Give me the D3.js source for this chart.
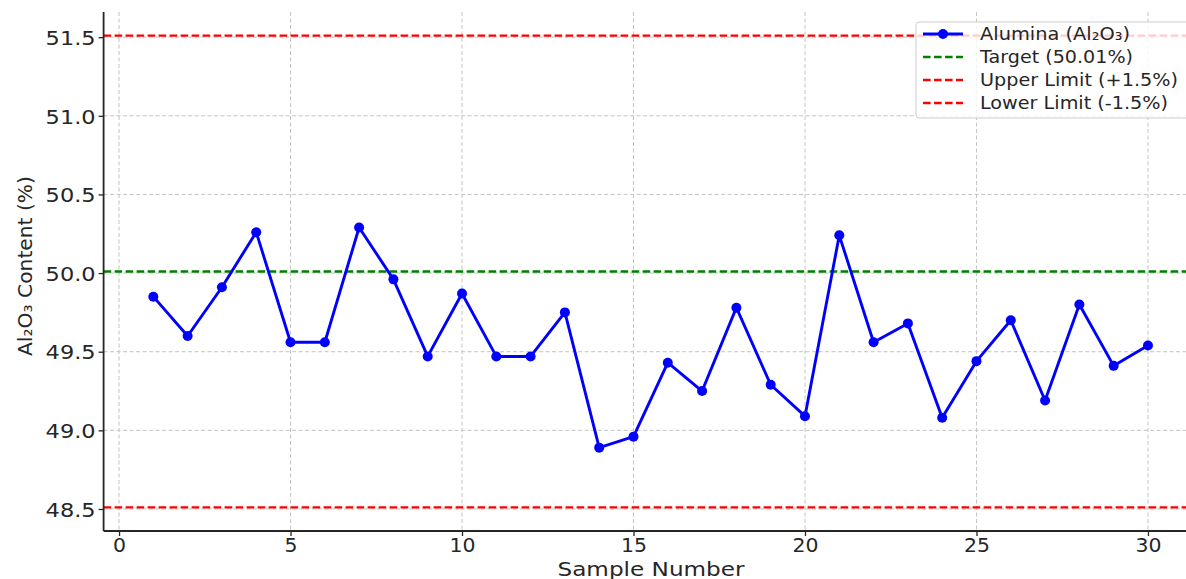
<!DOCTYPE html>
<html>
<head>
<meta charset="utf-8">
<script src="https://cdn.jsdelivr.net/npm/d3@7/dist/d3.min.js"></script>
<style>
  html, body { margin: 0; padding: 0; background: #fff; }
  svg { display: block; }
  text { font-family: "DejaVu Sans", sans-serif; fill: #262626; }
</style>
</head>
<body>
<svg id="chart" width="1186" height="579"></svg>
<script>
// ---- data ----
const samples = d3.range(1, 31);
const alumina = [49.85, 49.60, 49.91, 50.26, 49.56, 49.56, 50.29, 49.96, 49.47, 49.87,
                 49.47, 49.47, 49.75, 48.89, 48.96, 49.43, 49.25, 49.78, 49.29, 49.09,
                 50.24, 49.56, 49.68, 49.08, 49.44, 49.70, 49.19, 49.80, 49.41, 49.54];
const target = 50.01;
const upperLimit = 51.51;
const lowerLimit = 48.51;
const xTicks = [0, 5, 10, 15, 20, 25, 30];
const yTicks = [48.5, 49.0, 49.5, 50.0, 50.5, 51.0, 51.5];
const legendLabels = ["Alumina (Al₂O₃)", "Target (50.01%)", "Upper Limit (+1.5%)", "Lower Limit (-1.5%)"];

// ---- layout ----
const svg = d3.select("#chart");
const pL = 103.6, pR = 1197.7, pT = 12, pB = 531;
const x = d3.scaleLinear().domain([-0.45, 31.45]).range([pL, pR]);
const y = d3.scaleLinear().domain([48.36, 51.66]).range([pB, pT]);

svg.append("defs").append("clipPath").attr("id", "clip")
  .append("rect").attr("x", pL).attr("y", pT).attr("width", pR - pL).attr("height", pB - pT);

// grid
const grid = svg.append("g");
grid.selectAll("line.gx").data(xTicks).join("line").attr("class", "gx")
  .attr("x1", d => x(d)).attr("x2", d => x(d)).attr("y1", pT).attr("y2", pB)
  .attr("stroke", "#c4c4c4").attr("stroke-width", 1).attr("stroke-dasharray", "4,2.5");
grid.selectAll("line.gy").data(yTicks).join("line").attr("class", "gy")
  .attr("y1", d => y(d)).attr("y2", d => y(d)).attr("x1", pL).attr("x2", pR)
  .attr("stroke", "#c4c4c4").attr("stroke-width", 1).attr("stroke-dasharray", "4,2.5");

const plot = svg.append("g").attr("clip-path", "url(#clip)");

// reference lines
const refs = [
  { v: upperLimit, c: "#ff0000" },
  { v: lowerLimit, c: "#ff0000" },
  { v: target, c: "#008000" }
];
plot.selectAll("line.ref").data(refs).join("line").attr("class", "ref")
  .attr("x1", pL).attr("x2", pR)
  .attr("y1", d => y(d.v)).attr("y2", d => y(d.v))
  .attr("stroke", d => d.c).attr("stroke-width", 2.4).attr("stroke-dasharray", "7.6,3.4");

// series
const line = d3.line().x((d, i) => x(samples[i])).y(d => y(d));
plot.append("path").datum(alumina)
  .attr("d", line).attr("fill", "none").attr("stroke", "#0000ff").attr("stroke-width", 2.9)
  .attr("stroke-linejoin", "round");
plot.selectAll("circle.pt").data(alumina).join("circle").attr("class", "pt")
  .attr("cx", (d, i) => x(samples[i])).attr("cy", d => y(d)).attr("r", 5)
  .attr("fill", "#0000ff");

// axes
const xAxis = svg.append("g").attr("transform", `translate(0,${pB})`)
  .call(d3.axisBottom(x).tickValues(xTicks).tickSize(5).tickFormat(d3.format("d")));
xAxis.select(".domain").attr("stroke", "#262626").attr("stroke-width", 1.8).attr("d", `M${pL},0H${pR}`);
xAxis.selectAll(".tick line").attr("stroke", "#262626").attr("stroke-width", 1.3);
xAxis.selectAll(".tick text").attr("font-size", 19).attr("dy", null).attr("y", 21)
  .attr("textLength", d => String(d).length * 13).attr("lengthAdjust", "spacingAndGlyphs")
  .style("fill", "#262626");

const yAxis = svg.append("g").attr("transform", `translate(${pL},0)`)
  .call(d3.axisLeft(y).tickValues(yTicks).tickSize(5).tickFormat(d3.format(".1f")));
yAxis.select(".domain").attr("stroke", "#262626").attr("stroke-width", 1.8).attr("d", `M0,${pT}V${pB}`);
yAxis.selectAll(".tick line").attr("stroke", "#262626").attr("stroke-width", 1.3);
yAxis.selectAll(".tick text").attr("font-size", 20).attr("x", -8).attr("dy", "0.36em")
  .attr("textLength", 50).attr("lengthAdjust", "spacingAndGlyphs")
  .style("fill", "#262626");
svg.selectAll(".tick text").attr("font-family", "DejaVu Sans");

// axis labels
svg.append("text").attr("x", 651).attr("y", 576).attr("text-anchor", "middle")
  .attr("font-size", 19).attr("textLength", 187).attr("lengthAdjust", "spacingAndGlyphs")
  .text("Sample Number");
svg.append("text").attr("transform", "translate(32,266) rotate(-90)").attr("text-anchor", "middle")
  .attr("font-size", 19).attr("textLength", 180).attr("lengthAdjust", "spacingAndGlyphs")
  .text("Al₂O₃ Content (%)");

// legend
const lg = svg.append("g");
lg.append("rect").attr("x", 916).attr("y", 22).attr("width", 290).attr("height", 96).attr("rx", 3)
  .attr("fill", "#ffffff").attr("fill-opacity", 0.8).attr("stroke", "#cccccc").attr("stroke-width", 1);
const rowsY = [34, 57, 80, 103];
const rowColors = ["#0000ff", "#008000", "#ff0000", "#ff0000"];
const rows = lg.selectAll("g.row").data(legendLabels).join("g").attr("class", "row")
  .attr("transform", (d, i) => `translate(0,${rowsY[i]})`);
rows.append("line").attr("x1", 923).attr("x2", 963).attr("y1", 0).attr("y2", 0)
  .attr("stroke", (d, i) => rowColors[i])
  .attr("stroke-width", (d, i) => i === 0 ? 2.9 : 2.4)
  .attr("stroke-dasharray", (d, i) => i === 0 ? null : "7.6,3.4");
rows.filter((d, i) => i === 0).append("circle").attr("cx", 943).attr("cy", 0).attr("r", 5).attr("fill", "#0000ff");
const legendWidths = [150, 153, 198, 188];
rows.append("text").attr("x", 980).attr("y", 0).attr("dy", "0.36em").attr("font-size", 18)
  .attr("textLength", (d, i) => legendWidths[i]).attr("lengthAdjust", "spacingAndGlyphs")
  .text(d => d);
</script>
</body>
</html>
